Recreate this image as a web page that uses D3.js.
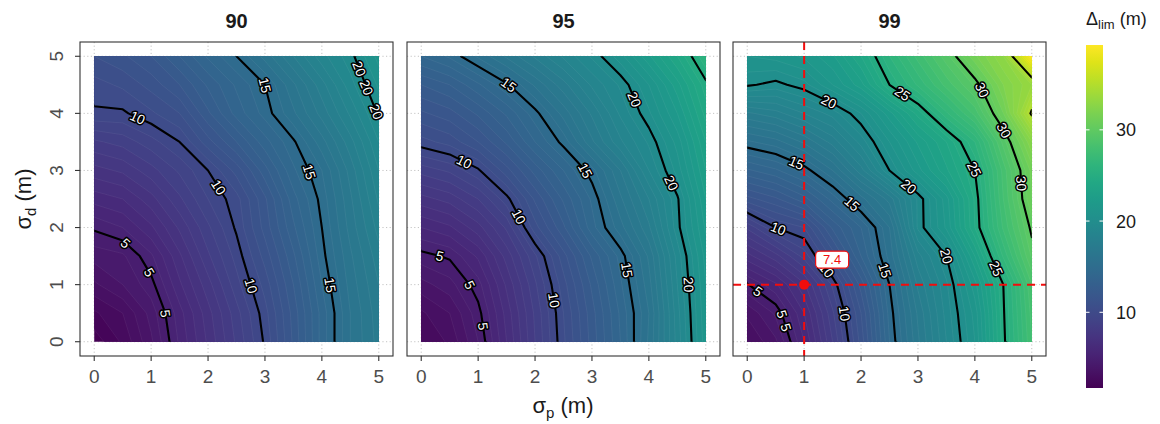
<!DOCTYPE html>
<html>
<head>
<meta charset="utf-8">
<script src="https://cdn.jsdelivr.net/npm/d3@7"></script>
<style>
  body { margin: 0; background: #fff; }
  svg { display: block; font-family: "Liberation Sans", Arial, Helvetica, sans-serif; }
</style>
</head>
<body>
<svg id="chart" width="1160" height="424"></svg>
<script>
// Grid axes (m)
const sigmaP = [0, 0.5, 1, 1.5, 2, 2.5, 3, 3.5, 4, 4.5, 5];
const sigmaD = [0, 0.5, 1, 1.5, 2, 2.5, 3, 3.5, 4, 4.5, 5];
const axisTicks = [0, 1, 2, 3, 4, 5];
const colorbarTicks = [10, 20, 30];
const quantiles = ["90", "95", "99"];

// Δlim (m); one row per σd (first row σd = 0), one column per σp
const delta90 = [
  [1.7, 2.6, 3.9, 5.6, 7.1, 8.6, 10.1, 12.1, 14.2, 16.0, 17.2],
  [2.4, 3.0, 4.2, 5.8, 7.3, 8.8, 10.3, 12.2, 14.2, 16.0, 17.3],
  [3.4, 4.0, 4.8, 6.4, 7.8, 9.3, 10.7, 12.5, 14.5, 16.2, 17.5],
  [4.2, 4.4, 5.4, 6.9, 8.4, 9.7, 11.2, 12.9, 14.8, 16.4, 17.8],
  [5.1, 5.5, 6.4, 7.6, 8.9, 10.1, 11.7, 13.4, 15.0, 16.7, 18.2],
  [6.2, 6.5, 7.3, 8.4, 9.5, 10.3, 11.9, 13.8, 15.2, 16.9, 18.6],
  [7.3, 7.6, 8.3, 9.1, 10.0, 11.2, 12.8, 14.4, 15.5, 17.2, 19.0],
  [8.4, 8.7, 9.3, 10.0, 11.3, 12.5, 13.8, 14.9, 16.3, 17.8, 19.5],
  [9.9, 9.9, 10.4, 11.0, 12.4, 13.7, 14.7, 15.9, 17.2, 18.6, 20.1],
  [10.3, 10.6, 11.2, 12.0, 13.1, 14.1, 15.0, 16.4, 17.8, 19.3, 20.6],
  [11.0, 11.4, 12.0, 13.0, 14.1, 15.0, 16.2, 17.5, 18.8, 19.8, 21.2]
];
const delta95 = [
  [2.5, 3.1, 4.5, 6.5, 8.5, 10.4, 12.2, 14.0, 16.1, 18.7, 21.3],
  [2.9, 3.5, 4.8, 6.7, 8.6, 10.5, 12.3, 14.1, 16.0, 18.8, 21.4],
  [3.8, 4.3, 5.3, 7.1, 8.9, 10.8, 12.6, 14.4, 16.3, 19.0, 21.5],
  [4.8, 5.1, 6.1, 7.7, 9.4, 11.3, 13.1, 14.7, 16.6, 19.2, 21.7],
  [6.0, 6.4, 7.3, 8.6, 10.8, 12.4, 14.3, 15.8, 17.4, 19.8, 22.1],
  [7.3, 7.7, 8.5, 9.8, 11.6, 13.1, 14.6, 16.4, 18.0, 19.9, 22.5],
  [8.7, 9.1, 9.9, 11.3, 12.7, 14.0, 15.3, 17.0, 19.0, 20.7, 23.0],
  [10.3, 10.7, 11.5, 12.6, 14.0, 15.2, 16.9, 18.4, 19.6, 21.2, 23.5],
  [11.4, 11.8, 12.6, 13.6, 14.8, 16.2, 17.6, 19.1, 20.4, 22.0, 24.2],
  [12.5, 13.0, 13.9, 14.9, 16.1, 17.3, 18.6, 19.6, 21.0, 22.8, 24.8],
  [14.0, 14.6, 15.6, 16.6, 17.6, 18.6, 19.6, 20.8, 22.4, 24.0, 26.0]
];
const delta99 = [
  [3.0, 3.9, 6.0, 8.5, 11.2, 14.5, 16.9, 19.0, 21.0, 24.8, 28.0],
  [3.6, 4.6, 6.5, 8.9, 11.5, 14.7, 17.1, 19.2, 21.2, 24.9, 28.2],
  [4.95, 5.9, 7.4, 9.6, 12.2, 15.0, 17.6, 19.4, 21.8, 25.0, 28.5],
  [6.8, 7.8, 9.2, 11.2, 13.5, 15.7, 18.3, 20.0, 23.0, 26.6, 29.6],
  [8.6, 10.0, 10.5, 12.6, 14.0, 16.0, 19.6, 21.6, 24.5, 27.6, 30.2],
  [11.3, 11.9, 12.8, 14.2, 15.8, 17.2, 19.6, 21.8, 24.6, 28.0, 31.0],
  [13.4, 13.9, 14.7, 16.0, 17.8, 20.0, 21.8, 23.4, 25.0, 28.2, 31.2],
  [15.4, 15.8, 16.6, 17.7, 19.2, 21.0, 22.6, 24.0, 26.0, 29.2, 32.5],
  [17.4, 17.8, 18.5, 19.2, 20.5, 22.3, 24.2, 26.4, 28.2, 31.0, 35.2],
  [20.1, 19.8, 20.3, 21.5, 22.8, 25.0, 26.6, 28.2, 29.6, 32.0, 33.5],
  [21.0, 21.2, 21.6, 22.4, 24.0, 26.0, 27.7, 29.3, 31.4, 33.0, 39.3]
];

// Contour label anchors: [level, σp, σd]
const labels90 = [
  [10, 0.75, 3.9], [10, 2.24, 2.74], [5, 0.57, 1.75], [5, 1.04, 1.26], [5, 1.28, 0.5],
  [10, 2.83, 1.0], [15, 4.2, 1.0], [15, 3.03, 4.5], [15, 3.85, 3.0],
  [20, 4.58, 4.75], [20, 4.9, 4.5], [20, 4.88, 4.0]
];
const labels95 = [
  [15, 1.53, 4.49], [20, 3.78, 4.26], [10, 0.8, 3.24], [15, 3.0, 3.1], [20, 4.37, 2.77],
  [10, 1.77, 2.22], [5, 0.33, 1.52], [5, 0.86, 1.0], [5, 1.09, 0.27], [10, 2.35, 0.73],
  [15, 3.63, 1.26], [20, 4.72, 1.0]
];
const labels99 = [
  [20, 1.49, 4.32], [25, 2.77, 4.41], [30, 4.0, 4.35], [15, 0.91, 3.24], [30, 4.58, 3.74],
  [25, 3.95, 3.0], [20, 2.89, 2.78], [30, 4.91, 2.78], [15, 1.77, 2.34], [10, 0.52, 1.92],
  [15, 2.45, 1.26], [20, 3.56, 1.52], [25, 4.23, 1.22], [10, 1.77, 0.5], [5, 0.23, 0.94],
  [5, 0.67, 0.5], [5, 0.75, 0.27], [10, 1.45, 1.3]
];

// Highlighted design point on the 99 panel
const markerP = 1;
const markerD = 1;

const panels = [
  { title: quantiles[0], grid: delta90, labels: labels90, marker: false },
  { title: quantiles[1], grid: delta95, labels: labels95, marker: false },
  { title: quantiles[2], grid: delta99, labels: labels99, marker: true }
];

// ---------------------------------------------------------------
const svg = d3.select("#chart");
const panelLeft = [80, 407, 733];
const panelW = 313;
const panelTop = 42, panelBottom = 356;
const dom = [-0.25, 5.25];

const allValues = panels.flatMap(p => p.grid.flat());
const extent = d3.extent(allValues);
const color = d3.scaleSequential(d3.interpolateViridis).domain(extent);

const nx = sigmaP.length, ny = sigmaD.length;
const gx = d3.scaleLinear().domain([0.5, nx - 0.5]).range([sigmaP[0], sigmaP[nx - 1]]);
const gy = d3.scaleLinear().domain([0.5, ny - 0.5]).range([sigmaD[0], sigmaD[ny - 1]]);

const bandStep = 0.5;
const bandLevels = d3.range(Math.floor(extent[0] / bandStep) * bandStep, extent[1], bandStep);
const lineLevels = d3.range(5, extent[1], 5);

const defs = svg.append("defs");

panels.forEach((pn, i) => {
  const x = d3.scaleLinear().domain(dom).range([panelLeft[i], panelLeft[i] + panelW]);
  const y = d3.scaleLinear().domain(dom).range([panelBottom, panelTop]);
  const g = svg.append("g");

  // dotted grid
  const grid = g.append("g").attr("stroke", "#c4c4c4").attr("stroke-width", 1)
    .attr("stroke-dasharray", "1.2,2.4");
  axisTicks.forEach(v => {
    grid.append("line").attr("x1", x(v)).attr("x2", x(v)).attr("y1", panelTop).attr("y2", panelBottom);
    grid.append("line").attr("y1", y(v)).attr("y2", y(v)).attr("x1", x.range()[0]).attr("x2", x.range()[1]);
  });

  // clip to the sampled square
  const clipId = "clip" + i;
  defs.append("clipPath").attr("id", clipId).append("rect")
    .attr("x", x(sigmaP[0])).attr("y", y(sigmaD[ny - 1]))
    .attr("width", x(sigmaP[nx - 1]) - x(sigmaP[0]))
    .attr("height", y(sigmaD[0]) - y(sigmaD[ny - 1]));

  const flat = pn.grid.flat();
  const proj = d3.geoTransform({
    point(cx, cy) { this.stream.point(x(gx(cx)), y(gy(cy))); }
  });
  const path = d3.geoPath(proj);

  // filled contour bands
  const bands = d3.contours().size([nx, ny]).thresholds(bandLevels)(flat);
  const fillG = g.append("g").attr("clip-path", `url(#${clipId})`);
  fillG.selectAll("path.band").data(bands).join("path")
    .attr("class", "band")
    .attr("d", path)
    .attr("fill", d => color(d.value + bandStep / 2))
    .attr("stroke", "rgba(255,255,255,0.1)")
    .attr("stroke-width", 0.6);

  // contour lines
  const lineGen = d3.contours().size([nx, ny]).thresholds(lineLevels);
  const lines = lineGen(flat);
  fillG.selectAll("path.iso").data(lines).join("path")
    .attr("class", "iso")
    .attr("d", path)
    .attr("fill", "none")
    .attr("stroke", "#000")
    .attr("stroke-width", 2.1)
    .attr("stroke-linejoin", "round");

  // contour labels, snapped to the nearest point of their own level
  const xin = [x(sigmaP[0]) - 0.5, x(sigmaP[nx - 1]) + 0.5];
  const yin = [y(sigmaD[ny - 1]) - 0.5, y(sigmaD[0]) + 0.5];
  const labelG = g.append("g");
  pn.labels.forEach(([level, lp, ld]) => {
    const c = lines.find(l => l.value === level);
    const px = x(lp), py = y(ld);
    let best = null;
    if (c) {
      c.coordinates.forEach(poly => poly.forEach(ring => {
        const pts = ring.map(([cx, cy]) => [x(gx(cx)), y(gy(cy))]);
        for (let k = 0; k < pts.length - 1; k++) {
          const [ax, ay] = pts[k], [bx, by] = pts[k + 1];
          const mx = (ax + bx) / 2, my = (ay + by) / 2;
          if (mx < xin[0] || mx > xin[1] || my < yin[0] || my > yin[1]) continue;
          const dx = bx - ax, dy = by - ay, L = dx * dx + dy * dy;
          if (!L) continue;
          let t = ((px - ax) * dx + (py - ay) * dy) / L;
          t = Math.max(0, Math.min(1, t));
          const qx = ax + t * dx, qy = ay + t * dy;
          const dist = Math.hypot(px - qx, py - qy);
          if (!best || dist < best.dist) best = { x: qx, y: qy, dist, ang: Math.atan2(dy, dx) * 180 / Math.PI };
        }
      }));
    }
    let lx = px, ly = py, ang = 0;
    if (best && best.dist < 30) {
      lx = best.x; ly = best.y; ang = best.ang;
      if (ang > 90) ang -= 180;
      if (ang < -90) ang += 180;
    }
    labelG.append("text")
      .attr("transform", `translate(${lx},${ly}) rotate(${ang})`)
      .attr("text-anchor", "middle")
      .attr("dy", "0.36em")
      .attr("font-size", 13.5)
      .attr("fill", "#fff")
      .attr("stroke", "#000")
      .attr("stroke-width", 3)
      .attr("stroke-linejoin", "round")
      .attr("paint-order", "stroke")
      .text(level);
  });

  // highlighted point with its value
  if (pn.marker) {
    const mg = g.append("g");
    const red = "#f20d0d";
    mg.append("line").attr("x1", x(markerP)).attr("x2", x(markerP))
      .attr("y1", panelTop).attr("y2", panelBottom)
      .attr("stroke", red).attr("stroke-width", 2).attr("stroke-dasharray", "8,6");
    mg.append("line").attr("y1", y(markerD)).attr("y2", y(markerD))
      .attr("x1", x.range()[0]).attr("x2", x.range()[1])
      .attr("stroke", red).attr("stroke-width", 2).attr("stroke-dasharray", "8,6");
    mg.append("circle").attr("cx", x(markerP)).attr("cy", y(markerD)).attr("r", 5).attr("fill", red);
    const v = pn.grid[sigmaD.indexOf(markerD)][sigmaP.indexOf(markerP)];
    const bx = x(markerP) + 28, by = y(markerD) - 25;
    mg.append("rect").attr("x", bx - 16.5).attr("y", by - 8.5).attr("width", 33).attr("height", 17)
      .attr("rx", 4).attr("fill", "#fff").attr("stroke", red).attr("stroke-width", 1.2);
    mg.append("text").attr("x", bx).attr("y", by).attr("dy", "0.36em")
      .attr("text-anchor", "middle").attr("font-size", 13).attr("fill", red)
      .text(d3.format(".1f")(v));
  }

  // panel border
  g.append("rect").attr("x", x.range()[0]).attr("y", panelTop)
    .attr("width", panelW).attr("height", panelBottom - panelTop)
    .attr("fill", "none").attr("stroke", "#333").attr("stroke-width", 1.1);

  // x axis
  axisTicks.forEach(v => {
    g.append("line").attr("x1", x(v)).attr("x2", x(v)).attr("y1", panelBottom).attr("y2", panelBottom + 5)
      .attr("stroke", "#333").attr("stroke-width", 1.1);
    g.append("text").attr("x", x(v)).attr("y", panelBottom + 27).attr("text-anchor", "middle")
      .attr("font-size", 19).attr("fill", "#4d4d4d").text(v);
  });

  // y axis (first panel only)
  if (i === 0) {
    axisTicks.forEach(v => {
      g.append("line").attr("x1", x.range()[0] - 5).attr("x2", x.range()[0]).attr("y1", y(v)).attr("y2", y(v))
        .attr("stroke", "#333").attr("stroke-width", 1.1);
      g.append("text").attr("transform", `translate(${x.range()[0] - 17},${y(v)}) rotate(-90)`)
        .attr("text-anchor", "middle").attr("font-size", 19).attr("fill", "#4d4d4d").text(v);
    });
  }

  // panel title
  g.append("text").attr("x", x.range()[0] + panelW / 2).attr("y", 28).attr("text-anchor", "middle")
    .attr("font-size", 20).attr("font-weight", "bold").attr("fill", "#1a1a1a").text(pn.title);
});

// axis titles
const xt = svg.append("text").attr("x", (panelLeft[0] + panelLeft[2] + panelW) / 2).attr("y", 413)
  .attr("text-anchor", "middle").attr("font-size", 22).attr("fill", "#1a1a1a");
xt.append("tspan").text("σ");
xt.append("tspan").attr("font-size", 15).attr("dy", 5).text("p");
xt.append("tspan").attr("dy", -5).text(" (m)");

const yt = svg.append("text").attr("transform", `translate(31,${(panelTop + panelBottom) / 2}) rotate(-90)`)
  .attr("text-anchor", "middle").attr("font-size", 22).attr("fill", "#1a1a1a");
yt.append("tspan").text("σ");
yt.append("tspan").attr("font-size", 15).attr("dy", 5).text("d");
yt.append("tspan").attr("dy", -5).text(" (m)");

// colour bar
const cbX = 1086, cbW = 17, cbTop = 45, cbBottom = 388;
const grad = defs.append("linearGradient").attr("id", "cbGrad")
  .attr("x1", 0).attr("x2", 0).attr("y1", 1).attr("y2", 0);
d3.range(0, 1.0001, 0.05).forEach(t => {
  grad.append("stop").attr("offset", t).attr("stop-color", d3.interpolateViridis(t));
});
svg.append("rect").attr("x", cbX).attr("y", cbTop).attr("width", cbW).attr("height", cbBottom - cbTop)
  .attr("fill", "url(#cbGrad)");
const cbScale = d3.scaleLinear().domain(extent).range([cbBottom, cbTop]);
colorbarTicks.forEach(v => {
  const yy = cbScale(v);
  svg.append("line").attr("x1", cbX).attr("x2", cbX + 3.5).attr("y1", yy).attr("y2", yy)
    .attr("stroke", "#fff").attr("stroke-width", 1);
  svg.append("line").attr("x1", cbX + cbW - 3.5).attr("x2", cbX + cbW).attr("y1", yy).attr("y2", yy)
    .attr("stroke", "#fff").attr("stroke-width", 1);
  svg.append("text").attr("x", 1116).attr("y", yy).attr("dy", "0.36em")
    .attr("font-size", 18).attr("fill", "#1a1a1a").text(v);
});
const ct = svg.append("text").attr("x", cbX).attr("y", 25).attr("font-size", 18).attr("fill", "#1a1a1a");
ct.append("tspan").text("Δ");
ct.append("tspan").attr("font-size", 13).attr("dy", 4).text("lim");
ct.append("tspan").attr("dy", -4).text(" (m)");
</script>
</body>
</html>
